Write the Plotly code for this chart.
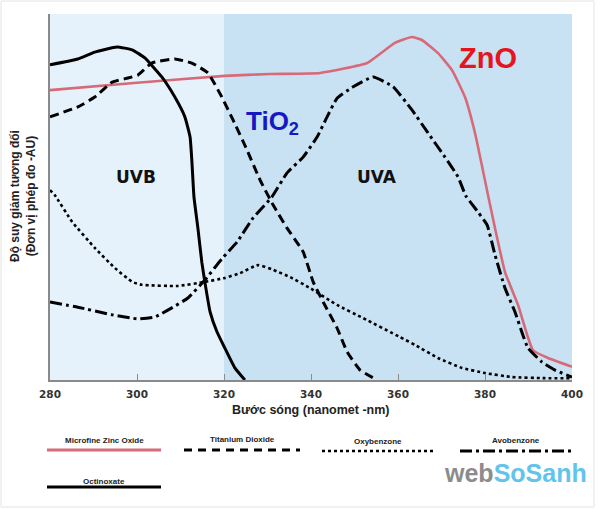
import plotly.graph_objects as go

# ---- data (wavelength in nm, relative attenuation in AU, 0..100 scale) ----
zno_x = [280, 300, 320.2, 330.6, 342.1, 352.9, 359.3, 363.2, 365.5, 369.2, 372.4, 375.4,
         377.7, 379.5, 380.7, 382.3, 384.6, 387.6, 389.7, 391.0, 394.5, 400]
zno_y = [79.2, 81.2, 83.1, 83.6, 83.9, 86.6, 92.1, 93.7, 92.9, 89.3, 84.7, 77.3,
         67.5, 57.4, 50.5, 41.5, 29.5, 20.5, 12.3, 8.2, 6.0, 3.6]

tio2_x = [280, 286.4, 290.3, 294.3, 297.9, 300.2, 303.4, 308.7, 312.6, 316.3, 319.5, 322.1,
          325.3, 328.3, 331.3, 334.5, 338.2, 340.5, 342.8, 346.0, 348.3, 351.3, 355.2]
tio2_y = [71.9, 74.6, 77.3, 81.4, 82.5, 83.3, 86.6, 87.7, 86.6, 83.9, 77.3, 71.0,
          62.8, 54.6, 47.8, 41.5, 35.0, 26.8, 21.3, 14.2, 7.7, 2.7, 0.0]

oxy_x = [280, 281.1, 285.1, 290.3, 294.9, 298.9, 301.1, 309.4, 315.6, 320.2, 323.7, 327.8,
         331.3, 335.2, 339.8, 346.0, 352.0, 360.5, 363.9, 369.2, 374.7, 380.0, 386.2, 393.8, 400]
oxy_y = [51.9, 50.5, 43.2, 36.1, 30.6, 26.8, 26.0, 25.7, 26.8, 27.9, 29.2, 31.4,
         30.1, 28.1, 25.1, 20.5, 16.9, 11.7, 9.6, 6.0, 3.3, 1.9, 0.8, 0.5, 0.5]

avo_x = [280, 286.4, 294.3, 300.2, 304.1, 308.0, 311.7, 315.6, 319.5, 323.0, 326.7, 331.0,
         334.5, 338.2, 341.4, 343.7, 346.0, 349.7, 354.3, 358.9, 363.2, 366.9, 370.8, 373.8,
         375.6, 378.4, 380.5, 382.3, 384.6, 386.9, 388.7, 389.9, 393.1, 396.1, 400]
avo_y = [21.3, 19.9, 17.8, 16.7, 17.2, 19.7, 22.4, 27.3, 33.1, 37.7, 44.3, 50.0,
         56.6, 60.9, 66.4, 71.9, 77.0, 80.1, 82.8, 80.1, 73.8, 67.5, 60.9, 55.5,
         50.3, 45.9, 42.3, 34.2, 25.1, 18.6, 12.3, 8.7, 4.9, 2.7, 0.8]

octi_x = [280, 286.4, 290.3, 295.4, 298.9, 301.8, 305.7, 308.7, 311.0, 312.2, 312.6, 313.1,
          314.0, 314.9, 315.6, 316.8, 318.4, 320.2, 322.5, 324.8]
octi_y = [86.1, 87.7, 89.6, 91.0, 90.2, 88.0, 82.8, 77.3, 71.9, 66.4, 60.1, 50.0,
          41.5, 32.2, 26.8, 18.6, 13.1, 8.7, 3.3, 0.0]

x_ticks = [280, 300, 320, 340, 360, 380, 400]
legend_names = ["Microfine Zinc Oxide", "Titanium Dioxide", "Oxybenzone", "Avobenzone", "Octinoxate"]

# ---- layout helpers (pixel -> paper) ----
L, R, T, B = 50, 28, 14, 130
W, H = 600, 510
PW, PH = W - L - R, H - T - B


def px(x):
    return (x - L) / PW


def py(y):
    return (H - B - y) / PH


fig = go.Figure()

zno_color = "#d76a79"
styles = [
    (zno_x, zno_y, dict(color=zno_color, width=2.6, dash="solid")),
    (tio2_x, tio2_y, dict(color="black", width=3, dash="9px,5px")),
    (oxy_x, oxy_y, dict(color="black", width=2.6, dash="3px,3px")),
    (avo_x, avo_y, dict(color="black", width=3, dash="12px,4px,3px,4px")),
    (octi_x, octi_y, dict(color="black", width=3, dash="solid")),
]
for (xs, ys, ln), name in zip(styles, legend_names):
    fig.add_trace(go.Scatter(x=xs, y=ys, mode="lines", name=name,
                             line=dict(shape="spline", smoothing=0.4, **ln),
                             showlegend=False, hoverinfo="skip"))

shapes = [
    dict(type="rect", xref="x", yref="paper", x0=280, x1=320, y0=0, y1=1,
         fillcolor="#e6f2fb", line=dict(width=0), layer="below"),
    dict(type="rect", xref="x", yref="paper", x0=320, x1=400, y0=0, y1=1,
         fillcolor="#c8e2f4", line=dict(width=0), layer="below"),
]


def ann(x, y, text, font, **kw):
    d = dict(x=px(x), y=py(y), xref="paper", yref="paper", text=text, showarrow=False,
             font=font, xanchor="center", yanchor="middle")
    d.update(kw)
    return d


# custom legend
leg = [
    (legend_names[0], 47, 161, 440, 450, dict(color=zno_color, width=3, dash="solid")),
    (legend_names[1], 184, 300, 439, 450, dict(color="black", width=3, dash="8px,6px")),
    (legend_names[2], 322, 433, 441, 451, dict(color="black", width=2.6, dash="3px,3px")),
    (legend_names[3], 460, 572, 440, 451, dict(color="black", width=3, dash="12px,4px,3px,4px")),
    (legend_names[4], 47, 161, 481, 487, dict(color="black", width=3, dash="solid")),
]
annotations = []
for name, x0, x1, ty, ly, ln in leg:
    shapes.append(dict(type="line", xref="paper", yref="paper", x0=px(x0), x1=px(x1),
                       y0=py(ly), y1=py(ly), line=ln))
    annotations.append(ann((x0 + x1) / 2, ty, "<b>" + name + "</b>",
                           dict(family="Liberation Sans", size=8, color="#222")))

# border around image
shapes.append(dict(type="rect", xref="paper", yref="paper", x0=px(1), x1=px(594),
                   y0=py(507), y1=py(1), line=dict(color="#e4e4e4", width=1), layer="below"))

annotations += [
    ann(136, 177, "<b>UVB</b>", dict(family="DejaVu Sans", size=17, color="#111")),
    ann(377, 177, "<b>UVA</b>", dict(family="DejaVu Sans", size=17, color="#111")),
    ann(272, 122, "<b>TiO<sub>2</sub></b>", dict(family="Liberation Sans", size=26, color="#1717c4")),
    ann(488, 58, "<b>ZnO</b>", dict(family="Liberation Sans", size=29, color="#e5141d")),
    ann(23, 196, "<b>Độ suy giảm tương đối<br>(Đơn vị phép đo -AU)</b>",
        dict(family="Liberation Sans", size=12, color="#222"), textangle=-90),
    ann(311, 410, "<b>Bước sóng (nanomet -nm)</b>",
        dict(family="Liberation Sans", size=12.5, color="#222")),
    ann(515, 473,
        "<b><span style='color:#8c8c8c'>web</span><span style='color:#62c4ea'>SoSanh</span></b>",
        dict(family="Liberation Sans", size=25, color="#8c8c8c")),
]

fig.update_layout(
    width=W, height=H,
    margin=dict(l=L, r=R, t=T, b=B),
    paper_bgcolor="white", plot_bgcolor="#c8e2f4",
    shapes=shapes, annotations=annotations,
    showlegend=False,
    xaxis=dict(range=[280, 400], tickvals=x_ticks, ticktext=[str(v) for v in x_ticks],
               showgrid=False, zeroline=False, showline=True, linecolor="#8a8a8a", linewidth=2,
               ticks="inside", ticklen=6, tickcolor="#8a8a8a", tickwidth=1,
               tickfont=dict(family="DejaVu Sans", size=10.5, color="#333", weight="bold"),
               ticklabelstandoff=3),
    yaxis=dict(range=[0, 100], showgrid=False, zeroline=False, showline=True,
               linecolor="#8a8a8a", linewidth=2, showticklabels=False, ticks=""),
)

fig.write_html("out.html")
